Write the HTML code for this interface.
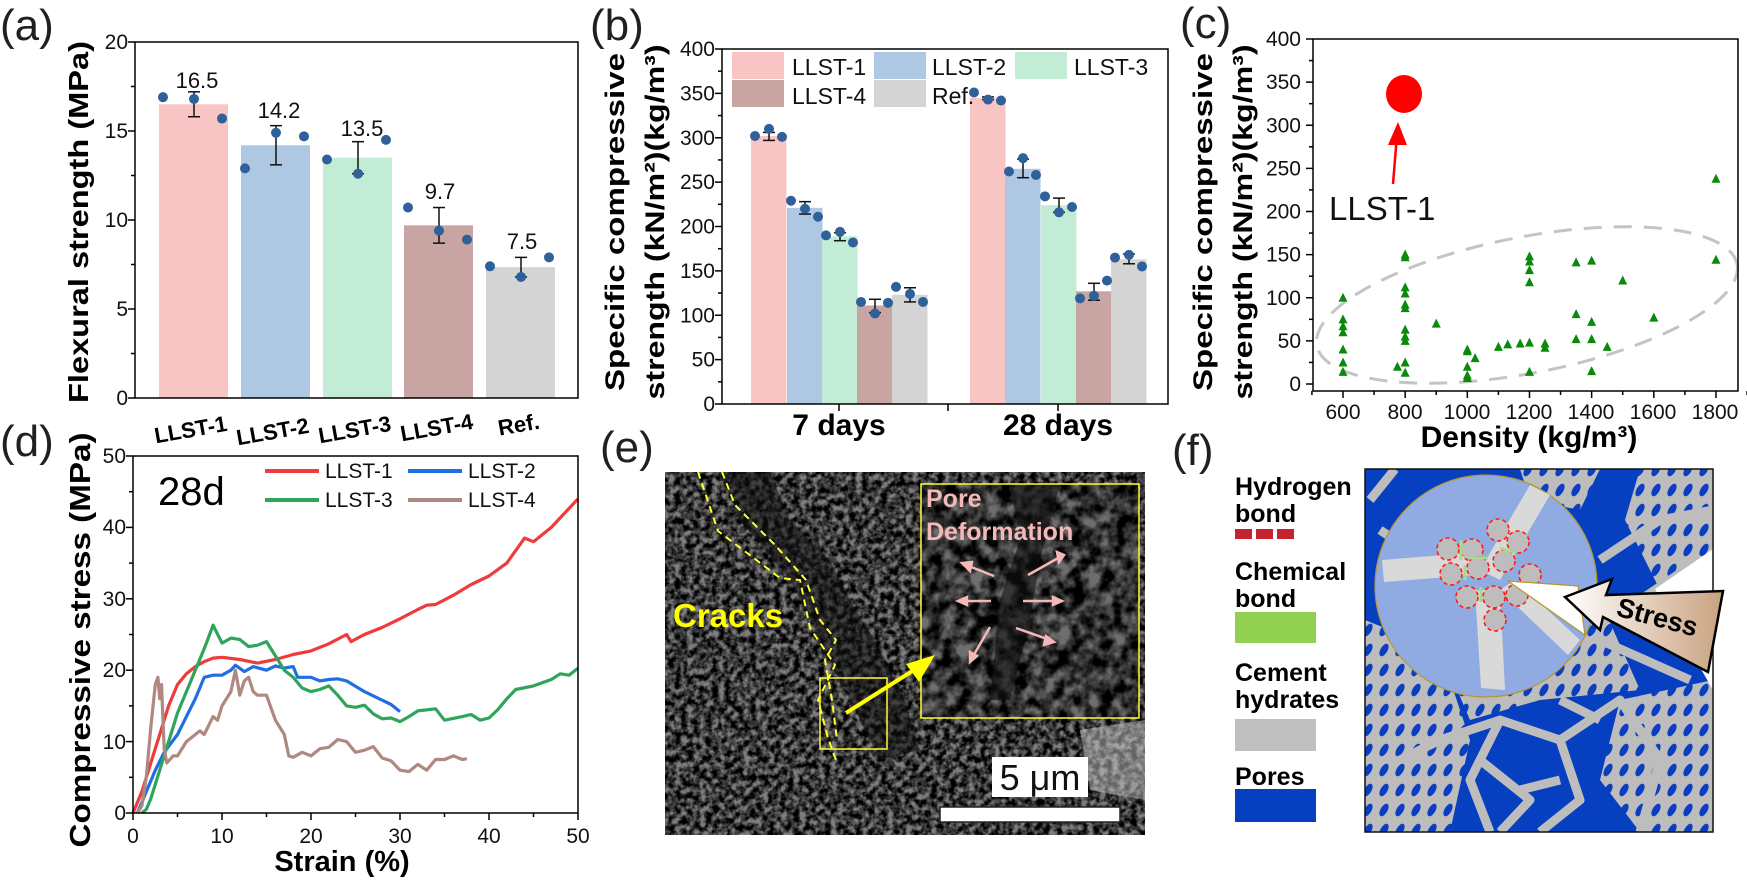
<!DOCTYPE html>
<html><head><meta charset="utf-8"><style>
html,body{margin:0;padding:0;background:#fff}
svg{display:block}
text{font-family:"Liberation Sans",Arial,sans-serif}
.t{font-size:21px;fill:#111}
.b{font-weight:bold;fill:#000}
.pl{font-size:44px;fill:#231f20}
.lg{font-family:"Liberation Sans Narrow","Liberation Sans",sans-serif;font-weight:bold;font-size:25px;fill:#000}
</style></head><body>
<svg id="s" width="1747" height="881" viewBox="0 0 1747 881" xmlns="http://www.w3.org/2000/svg">
<defs>
<filter id="sem" x="0" y="0" width="100%" height="100%">
<feTurbulence type="fractalNoise" baseFrequency="0.16" numOctaves="3" seed="4"/>
<feColorMatrix type="matrix" values="0 0 0 0 0  0 0 0 0 0  0 0 0 0 0  2.6 0 0 0 -0.75"/>
</filter>
<filter id="sem2" x="0" y="0" width="100%" height="100%">
<feTurbulence type="fractalNoise" baseFrequency="0.07" numOctaves="3" seed="9"/>
<feColorMatrix type="matrix" values="0 0 0 0 0  0 0 0 0 0  0 0 0 0 0  2.6 0 0 0 -0.75"/>
</filter>
<pattern id="holes" width="16" height="20" patternUnits="userSpaceOnUse">
<rect width="16" height="20" fill="#bdbdbd"/><ellipse cx="8" cy="10" rx="3.5" ry="7" fill="#0a3fbf" transform="rotate(30 8 10)"/>
</pattern>
<linearGradient id="ag" x1="0" x2="1" y1="0" y2="0"><stop offset="0" stop-color="#fff"/><stop offset="1" stop-color="#c9a27f"/></linearGradient>
<clipPath id="fbox"><rect x="1365" y="469" width="348" height="363"/></clipPath>
<clipPath id="ebox"><rect x="665" y="472" width="480" height="363"/></clipPath>
</defs>

<text class="pl" x="0" y="40">(a)</text>
<text class="pl" x="590" y="40">(b)</text>
<text class="pl" x="1180" y="38">(c)</text>
<text class="pl" x="0" y="456">(d)</text>
<text class="pl" x="600" y="462">(e)</text>
<text class="pl" x="1172" y="465">(f)</text>

<g id="A"></g><g id="B"></g><g id="C"></g><g id="D"></g>

<text class="b" font-size="28" transform="translate(88,222) rotate(-90)" text-anchor="middle" textLength="362" lengthAdjust="spacingAndGlyphs">Flexural strength (MPa)</text>
<g class="t" text-anchor="end">
<text x="128" y="405">0</text><text x="128" y="316">5</text><text x="128" y="227">10</text><text x="128" y="138">15</text><text x="128" y="49">20</text>
</g>
<g font-size="22" text-anchor="middle" fill="#111">
<text x="197" y="88">16.5</text><text x="279" y="118">14.2</text><text x="362" y="136">13.5</text><text x="440" y="199">9.7</text><text x="522" y="249">7.5</text>
</g>
<g class="b" font-size="22" text-anchor="middle">
<text transform="translate(192,437) rotate(-10)">LLST-1</text>
<text transform="translate(274,439) rotate(-10)">LLST-2</text>
<text transform="translate(356,437) rotate(-10)">LLST-3</text>
<text transform="translate(438,435) rotate(-10)">LLST-4</text>
<text transform="translate(520,432) rotate(-10)">Ref.</text>
</g>

<text class="b" font-size="27" transform="translate(624,222) rotate(-90)" text-anchor="middle" textLength="338" lengthAdjust="spacingAndGlyphs">Specific compressive</text>
<text class="b" font-size="27" transform="translate(664,222) rotate(-90)" text-anchor="middle" textLength="355" lengthAdjust="spacingAndGlyphs">strength (kN/m²)(kg/m³)</text>
<g class="t" text-anchor="end" id="bt"></g>
<text class="b" font-size="30" x="839" y="435" text-anchor="middle">7 days</text>
<text class="b" font-size="30" x="1058" y="435" text-anchor="middle">28 days</text>
<g font-size="23" fill="#111">
<text x="792" y="75">LLST-1</text><text x="932" y="75">LLST-2</text><text x="1074" y="75">LLST-3</text>
<text x="792" y="104">LLST-4</text><text x="932" y="104">Ref.</text>
</g>

<text class="b" font-size="27" transform="translate(1212,222) rotate(-90)" text-anchor="middle" textLength="338" lengthAdjust="spacingAndGlyphs">Specific compressive</text>
<text class="b" font-size="27" transform="translate(1252,222) rotate(-90)" text-anchor="middle" textLength="355" lengthAdjust="spacingAndGlyphs">strength (kN/m²)(kg/m³)</text>
<g class="t" text-anchor="end" id="ct"></g>
<g class="t" text-anchor="middle">
<text x="1343" y="419">600</text><text x="1405" y="419">800</text><text x="1467" y="419">1000</text><text x="1529" y="419">1200</text><text x="1591" y="419">1400</text><text x="1653" y="419">1600</text><text x="1715" y="419">1800</text>
</g>
<text class="b" font-size="30" x="1529" y="447" text-anchor="middle">Density (kg/m³)</text>
<text font-size="33" x="1329" y="220" fill="#111">LLST-1</text>

<text class="b" font-size="29" transform="translate(90,640) rotate(-90)" text-anchor="middle" textLength="415" lengthAdjust="spacingAndGlyphs">Compressive stress (MPa)</text>
<g class="t" text-anchor="end">
<text x="126" y="820">0</text><text x="126" y="749">10</text><text x="126" y="677">20</text><text x="126" y="606">30</text><text x="126" y="534">40</text><text x="126" y="463">50</text>
</g>
<g class="t" text-anchor="middle">
<text x="133" y="843">0</text><text x="222" y="843">10</text><text x="311" y="843">20</text><text x="400" y="843">30</text><text x="489" y="843">40</text><text x="578" y="843">50</text>
</g>
<text class="b" font-size="29" x="342" y="871" text-anchor="middle">Strain (%)</text>
<text font-size="40" x="158" y="505" fill="#000">28d</text>
<g font-size="21" fill="#111">
<text x="325" y="478">LLST-1</text><text x="468" y="478">LLST-2</text>
<text x="325" y="507">LLST-3</text><text x="468" y="507">LLST-4</text>
</g>
<g stroke-width="4">
<line x1="265" y1="471" x2="319" y2="471" stroke="#ee3b3b"/>
<line x1="408" y1="471" x2="462" y2="471" stroke="#1f6fe0"/>
<line x1="265" y1="500" x2="319" y2="500" stroke="#2ea55a"/>
<line x1="408" y1="500" x2="462" y2="500" stroke="#b08880"/>
</g>

<g clip-path="url(#ebox)">
<rect x="665" y="472" width="480" height="363" fill="#7e7e7e"/>
<rect x="665" y="472" width="480" height="363" fill="#1e1e1e" filter="url(#sem)"/>
<path d="M770,472 L790,520 L830,560 L850,600 L880,650 L905,700 L920,750 L880,760 L850,700 L820,640 L790,580 L740,520 L720,472Z" fill="#111" opacity="0.55"/>
<path d="M1080,730 L1145,720 L1145,800 L1090,790Z" fill="#c8c8c8" opacity="0.5"/>
<rect x="921" y="484" width="218" height="234" fill="#6e6e6e"/>
<rect x="921" y="484" width="218" height="234" fill="#161616" filter="url(#sem2)"/>
<path d="M1010,484 L1060,484 L1040,560 L1030,620 L1010,700 L990,700 L1000,600 L1020,540Z" fill="#111" opacity="0.6"/>
</g>
<rect x="921" y="484" width="218" height="234" fill="none" stroke="#ffff30" stroke-width="1.5"/>
<rect x="820" y="678" width="67" height="71" fill="none" stroke="#ffff30" stroke-width="1.5"/>
<g fill="none" stroke="#ffff30" stroke-width="2" stroke-dasharray="7,5">
<path d="M698,472 L718,531 L780,578 L800,580 L810,628 L835,665 L818,700 L828,738 L836,760"/>
<path d="M722,472 L735,505 L775,545 L806,580 L820,620 L836,640 L825,660 L832,700 L837,740"/>
</g>
<line x1="846" y1="713" x2="925" y2="663" stroke="#ffff00" stroke-width="4"/>
<polygon points="935,655 906,664 919,682" fill="#ffff00"/>
<text x="673" y="627" font-size="33" font-weight="bold" fill="#ffff00">Cracks</text>
<text x="926" y="507" font-size="25" font-weight="bold" fill="#f5b8b8">Pore</text>
<text x="926" y="540" font-size="25" font-weight="bold" fill="#f5b8b8">Deformation</text>
<g stroke="#f5b8b8" stroke-width="2.5" fill="#f5b8b8">
<line x1="994" y1="576" x2="966" y2="565"/><line x1="991" y1="601" x2="962" y2="601"/><line x1="990" y1="627" x2="972" y2="658"/>
<line x1="1028" y1="575" x2="1060" y2="557"/><line x1="1023" y1="601" x2="1058" y2="601"/><line x1="1016" y1="628" x2="1050" y2="640"/>
<polygon points="962,563 972,562 970,571"/><polygon points="958,601 967,597 967,605"/><polygon points="970,662 970,652 977,656"/>
<polygon points="1064,555 1057,552 1059,562"/><polygon points="1062,601 1053,597 1053,605"/><polygon points="1054,642 1046,636 1044,645"/>
</g>
<rect x="992" y="757" width="96" height="40" fill="#fff"/>
<text x="1040" y="790" font-size="36" text-anchor="middle" fill="#111">5 μm</text>
<rect x="940" y="807" width="180" height="15" fill="#fff" stroke="#222" stroke-width="1.5"/>

<text class="lg" x="1235" y="495">Hydrogen</text><text class="lg" x="1235" y="522">bond</text>
<g fill="#c4252c"><rect x="1235" y="529" width="17" height="10"/><rect x="1256" y="529" width="17" height="10"/><rect x="1277" y="529" width="17" height="10"/></g>
<text class="lg" x="1235" y="580">Chemical</text><text class="lg" x="1235" y="607">bond</text>
<rect x="1235" y="612" width="81" height="31" fill="#92d050"/>
<text class="lg" x="1235" y="681">Cement</text><text class="lg" x="1235" y="708">hydrates</text>
<rect x="1235" y="719" width="81" height="32" fill="#bfbfbf"/>
<text class="lg" x="1235" y="785">Pores</text>
<rect x="1235" y="789" width="81" height="33" fill="#063fbf"/>

<g clip-path="url(#fbox)">
<rect x="1365" y="469" width="348" height="363" fill="#063fbf"/>
<polygon points="1365,620 1440,650 1470,740 1450,832 1365,832" fill="url(#holes)"/>
<polygon points="1640,469 1713,469 1713,560 1660,590 1625,520" fill="url(#holes)"/>
<polygon points="1620,700 1713,680 1713,832 1640,832 1600,780" fill="url(#holes)"/>
<polygon points="1440,650 1600,600 1640,690 1540,700 1470,720" fill="url(#holes)"/>
<polygon points="1520,469 1600,469 1580,510 1530,500" fill="url(#holes)"/>
<g stroke="#bdbdbd" stroke-width="9" fill="none" stroke-linejoin="round">
<path d="M1370,500 L1395,469 M1380,530 L1440,570 M1600,560 L1660,520 L1713,510"/>
<path d="M1440,740 L1500,720 L1560,740 L1580,800 L1540,832"/>
<path d="M1500,720 L1470,780 L1490,832"/>
<path d="M1560,740 L1620,700 L1660,760 L1640,832"/>
<path d="M1400,760 L1440,740 M1520,790 L1560,780 M1600,640 L1690,680"/>
<path d="M1480,760 L1530,800 L1500,832 M1560,700 L1600,720"/>
<path d="M1640,600 L1700,560 L1713,600"/>
</g>
<polygon points="1713,549 1655,589 1713,690" fill="#fff"/>
</g>
<rect x="1365" y="469" width="348" height="363" fill="none" stroke="#111" stroke-width="1.5"/>
<circle cx="1486" cy="586" r="111" fill="#8fabe2" stroke="#b8962e" stroke-width="1.2"/>
<g fill="#d9d9d9">
<polygon points="1382,560 1470,553 1474,575 1384,582"/>
<polygon points="1530,485 1550,495 1500,580 1480,570"/>
<polygon points="1475,590 1500,590 1505,690 1481,688"/>
<polygon points="1500,590 1515,580 1580,640 1568,655"/>
</g>
<g fill="#bdbdbd" stroke="#ff1a1a" stroke-width="1.6" stroke-dasharray="4,3">
<circle cx="1448" cy="549" r="11"/><circle cx="1472" cy="550" r="11"/><circle cx="1498" cy="530" r="11"/><circle cx="1518" cy="542" r="11"/>
<circle cx="1504" cy="561" r="11"/><circle cx="1451" cy="574" r="11"/><circle cx="1478" cy="568" r="11"/><circle cx="1530" cy="575" r="11"/>
<circle cx="1467" cy="597" r="11"/><circle cx="1494" cy="597" r="11"/><circle cx="1517" cy="595" r="11"/><circle cx="1495" cy="620" r="11"/>
</g>
<g stroke="#a9d98a" stroke-width="3"><line x1="1461" y1="540" x2="1461" y2="560"/><line x1="1470" y1="558" x2="1488" y2="558"/><line x1="1465" y1="565" x2="1465" y2="580"/><line x1="1481" y1="587" x2="1481" y2="602"/><line x1="1500" y1="548" x2="1516" y2="553"/></g>
<polygon points="1508,581 1578,586 1585,635" fill="#fff" stroke="#b8962e" stroke-width="1.2"/>
<polygon points="1565,597 1612,579 1606,595 1723,591 1708,672 1603,617 1600,630" fill="url(#ag)" stroke="#000" stroke-width="2.5" stroke-linejoin="miter"/>
<text transform="translate(1655,626) rotate(15)" text-anchor="middle" font-family="Liberation Sans Narrow,Liberation Sans,sans-serif" font-weight="bold" font-size="27" fill="#000">Stress</text>
</svg>
<script>
(function(){
function add(g,h){document.getElementById(g).insertAdjacentHTML('beforeend',h);}
function box(x1,y1,x2,y2){return '<rect x="'+x1+'" y="'+y1+'" width="'+(x2-x1)+'" height="'+(y2-y1)+'" fill="none" stroke="#000" stroke-width="1.5"/>';}
var dot='#2e6199';
var cols=['#f8c4c4','#aec8e4','#c3ecd6','#c8a4a2','#d4d4d4'];
var ya=function(v){return 398-v*17.8;},h='';
var bx=[159,241,323,404,486],bw=69,vals=[16.5,14.2,13.5,9.7,7.35];
var dts=[[16.9,16.8,15.7],[12.9,14.9,14.7],[13.4,12.6,14.5],[10.7,9.4,8.9],[7.4,6.8,7.9]];
var er=[[15.8,17.2],[13.1,15.3],[12.6,14.4],[8.7,10.7],[6.8,7.9]];
for(var i=0;i<5;i++){h+='<rect x="'+bx[i]+'" y="'+ya(vals[i])+'" width="'+bw+'" height="'+(398-ya(vals[i]))+'" fill="'+cols[i]+'"/>';}
for(i=0;i<5;i++){var c=bx[i]+35;h+='<g stroke="#111" stroke-width="1.5"><line x1="'+c+'" y1="'+ya(er[i][0])+'" x2="'+c+'" y2="'+ya(er[i][1])+'"/><line x1="'+(c-6)+'" y1="'+ya(er[i][0])+'" x2="'+(c+6)+'" y2="'+ya(er[i][0])+'"/><line x1="'+(c-6)+'" y1="'+ya(er[i][1])+'" x2="'+(c+6)+'" y2="'+ya(er[i][1])+'"/></g>';
 var xs=[bx[i]+4,c,bx[i]+63];for(var j=0;j<3;j++)h+='<circle cx="'+xs[j]+'" cy="'+ya(dts[i][j])+'" r="5" fill="'+dot+'"/>';}
h+=box(135,42,578,398);
for(var v=0;v<=20;v+=2.5){var L=(v%5==0)?7:4;h+='<line x1="'+(135-L)+'" y1="'+ya(v)+'" x2="135" y2="'+ya(v)+'" stroke="#000" stroke-width="1.5"/>';}
add('A',h);
var yb=function(v){return 404-v*0.8875;};h='';
var g7=[751,787,822,857,892],g28=[970,1005,1041,1076,1111],bw2=35.5;
var v7=[302,221,189,111,123],v28=[345,265,224,127,163];
var d7=[[302,310,301],[229,220,211],[190,194,182],[115,102,114],[132,124,115]];
var d28=[[351,343,342],[262,277,258],[234,216,222],[119,122,139],[165,168,155]];
var e7=[[297,306],[214,228],[184,193],[103,118],[115,131]];
var e28=[[343,346],[255,276],[216,232],[117,136],[158,169]];
function grp(xs,vs,ds,es){var s='';for(var i=0;i<5;i++)s+='<rect x="'+xs[i]+'" y="'+yb(vs[i])+'" width="'+bw2+'" height="'+(404-yb(vs[i]))+'" fill="'+cols[i]+'"/>';
 for(i=0;i<5;i++){var c=xs[i]+18;s+='<g stroke="#111" stroke-width="1.5"><line x1="'+c+'" y1="'+yb(es[i][0])+'" x2="'+c+'" y2="'+yb(es[i][1])+'"/><line x1="'+(c-6)+'" y1="'+yb(es[i][0])+'" x2="'+(c+6)+'" y2="'+yb(es[i][0])+'"/><line x1="'+(c-6)+'" y1="'+yb(es[i][1])+'" x2="'+(c+6)+'" y2="'+yb(es[i][1])+'"/></g>';
 var xx=[xs[i]+4,c,xs[i]+31];for(var j=0;j<3;j++)s+='<circle cx="'+xx[j]+'" cy="'+yb(ds[i][j])+'" r="5" fill="'+dot+'"/>';}return s;}
h+=grp(g7,v7,d7,e7)+grp(g28,v28,d28,e28);
var lb=[[732,52],[874,52],[1015,52],[732,80],[874,80]];
for(i=0;i<5;i++)h+='<rect x="'+lb[i][0]+'" y="'+lb[i][1]+'" width="52" height="27" fill="'+cols[i]+'"/>';
h+=box(722,49,1168,404);
var bt='';
for(v=0;v<=400;v+=25){var L=(v%50==0)?7:4;h+='<line x1="'+(722-L)+'" y1="'+yb(v)+'" x2="722" y2="'+yb(v)+'" stroke="#000" stroke-width="1.5"/>';if(v%50==0)bt+='<text x="715" y="'+(yb(v)+7)+'">'+v+'</text>';}
[839,948,1058].forEach(function(x){h+='<line x1="'+x+'" y1="404" x2="'+x+'" y2="411" stroke="#000" stroke-width="1.5"/>';});
add('B',h);add('bt',bt);
var xc=function(d){return 1343+(d-600)*0.3108;},yc=function(v){return 384-v*0.8625;};h='';
h+='<ellipse cx="1527" cy="305" rx="214" ry="68" transform="rotate(-11 1527 305)" fill="none" stroke="#c4c4c4" stroke-width="3" stroke-dasharray="18,12"/>';
var pts=[[600,[100,75,67,60,40,25,14]],[775,[20]],[800,[150,147,112,105,92,88,63,55,50,25,13]],[900,[70]],[1000,[40,38,20,10,7]],[1025,[30]],[1100,[43]],[1130,[46]],[1170,[47]],[1200,[148,142,132,118,48,14]],[1250,[47,42]],[1350,[141,81,52]],[1400,[143,72,52,15]],[1450,[43]],[1500,[120]],[1600,[77]],[1800,[238,144]]];
pts.forEach(function(p){p[1].forEach(function(v){var x=xc(p[0]),y=yc(v);h+='<polygon points="'+(x-4.5)+','+(y+4)+' '+(x+4.5)+','+(y+4)+' '+x+','+(y-5)+'" fill="#0a8a0a"/>';});});
h+='<ellipse cx="1404" cy="94" rx="18" ry="19" fill="#ff0000"/>';
h+='<line x1="1393" y1="184" x2="1397" y2="135" stroke="#ff0000" stroke-width="2.5"/><polygon points="1398,122 1388,145 1407,145" fill="#ff0000"/>';
h+=box(1313,39,1738,391);
var ct='';
for(v=0;v<=400;v+=25){var L=(v%50==0)?7:4;h+='<line x1="'+(1313-L)+'" y1="'+yc(v)+'" x2="1313" y2="'+yc(v)+'" stroke="#000" stroke-width="1.5"/>';if(v%50==0)ct+='<text x="1301" y="'+(yc(v)+7)+'">'+v+'</text>';}
for(var d=500;d<=1900;d+=100){var L=(d%200==0)?7:4;h+='<line x1="'+xc(d)+'" y1="391" x2="'+xc(d)+'" y2="'+(391+L)+'" stroke="#000" stroke-width="1.5"/>';}
add('C',h);add('ct',ct);
var xd=function(s){return 133+s*8.9;},yd=function(v){return 813-v*7.14;};h='';
function pl(a,col){var s='';for(var i=0;i<a.length;i+=2)s+=(i?' ':'')+xd(a[i]).toFixed(1)+','+yd(a[i+1]).toFixed(1);return '<polyline points="'+s+'" fill="none" stroke="'+col+'" stroke-width="3.2" stroke-linejoin="round"/>';}
var r=[0,0,1,3,2,7,3,11,4,15,5,18,6,19.5,7,20.5,8,21.2,9,21.7,10,21.8,12,21.5,14,21,16,21.5,18,22.2,20,22.7,22,23.7,24,25,24.5,24,26,25,28,26,30,27.2,32,28.5,33,29.1,34,29.2,36,30.5,38,32,40,33.2,42,35,44,38.5,45,38,47,40,50,44];
var b=[0.5,0,1.5,3,2.5,6,3.5,8.5,5,11,6,13.5,7,16,8,19,9,19.3,10,19.3,11,20,11.5,20.7,12.5,19.8,13.5,20.5,15,20,16,20.6,17,20.3,18,20.5,18.5,19,20,19,21,18.5,22,18.7,23,18.8,24,18.5,26,17,28,15.8,29,15.2,30,14.2];
var g=[1,0,1.5,0.5,2,2,3,6,4,10,5,14,6,17,7,20,8,23,9,26.3,10,23.8,11,24.5,12,24.3,13,23.3,14,23.5,15,24,16,22,17,20,18,19,19,17.5,20,17,21,17.3,22,17.8,23,16.5,24,15,25,14.8,26,15.1,27,13.9,28,13.2,29,13.3,30,12.8,31,13.5,32,14.3,34,14.6,35,13,37,13.5,38,13.8,39,13,40,13.3,41,14.5,42,16,43,17.3,45,17.8,47,18.7,48,19.5,49,19.3,50,20.3];
var br=[0.5,0,1,1,1.5,5,2,12,2.5,18,2.8,19,3,16,3.2,18,3.5,9,3.8,7,4.5,8,5,8,6,10,7,11,7.5,11.5,8,11,9,13.5,9.5,13,10,15,11,17,11.5,20,12,16.5,12.5,18.5,13,19,13.5,17,14,16.5,15,16.5,16,13,17,11,17.5,8,18,7.8,19,8.5,20,8,21,9,22,9.2,23,10.3,24,10,25,8.5,26,8.8,27,9.3,28,7.7,29,7.3,30,6,31,5.8,32,6.8,33,6,34,7.5,35,7.5,36,8,37,7.5,37.5,7.6];
h+=pl(r,'#ee3b3b')+pl(b,'#1f6fe0')+pl(g,'#2ea55a')+pl(br,'#b08880');
h+=box(133,456,578,813);
for(v=0;v<=50;v+=5){var L=(v%10==0)?7:4;h+='<line x1="'+(133-L)+'" y1="'+yd(v)+'" x2="133" y2="'+yd(v)+'" stroke="#000" stroke-width="1.5"/>';h+='<line x1="'+xd(v)+'" y1="813" x2="'+xd(v)+'" y2="'+(813+L)+'" stroke="#000" stroke-width="1.5"/>';}
add('D',h);
})();
</script>
</body></html>
